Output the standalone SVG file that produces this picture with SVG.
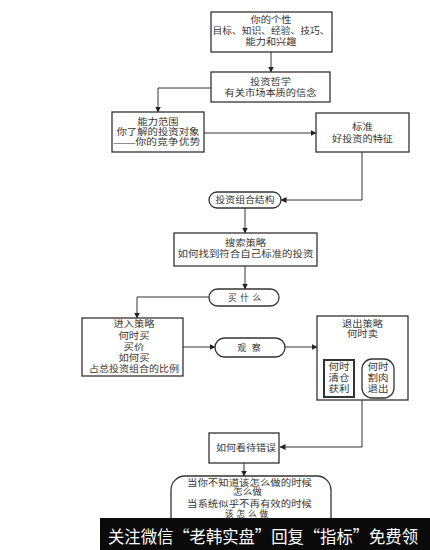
<svg xmlns="http://www.w3.org/2000/svg" width="430" height="550" viewBox="0 0 430 550">
<defs>
<marker id="ah" markerWidth="6" markerHeight="6" refX="5.5" refY="3" orient="auto" markerUnits="userSpaceOnUse">
<path d="M0,0 L6,3 L0,6 Z" fill="#222"/>
</marker>
<style>
.box{fill:#fff;stroke:#333;stroke-width:1.3}
.t{font-family:"Liberation Serif","Noto Sans CJK SC",serif;font-size:8.6px;fill:#333;text-anchor:middle;dominant-baseline:central}
.c{fill:none;stroke:#333;stroke-width:1;marker-end:url(#ah)}
.l{fill:none;stroke:#333;stroke-width:1}
.b{font-family:"Noto Sans CJK SC",sans-serif;font-size:17px;fill:#fff;dominant-baseline:central}
</style>
</defs>
<rect width="430" height="550" fill="#fff"/>

<g id="connectors">
<path class="c" d="M271,52 V72"/>
<path class="c" d="M211,88 H158 V112"/>
<path class="c" d="M204,133 H316"/>
<path class="c" d="M362,152 V200 H281"/>
<path class="c" d="M245,208 V233"/>
<path class="c" d="M245,266 V289"/>
<path class="c" d="M209,297 H137 V318"/>
<path class="c" d="M183,347 H215"/>
<path class="c" d="M285,347 H317"/>
<path class="l" d="M363,339 V349"/>
<path class="l" d="M341,349 H381"/>
<path class="c" d="M341,349 V360"/>
<path class="c" d="M381,349 V359"/>
<path class="c" d="M362,400 V447 H280"/>
<path class="c" d="M244,463 V476"/>
</g>

<g id="n1">
<rect class="box" x="211" y="12" width="121" height="40"/>
<text class="t" x="271" y="20" textLength="41" lengthAdjust="spacingAndGlyphs">你的个性</text>
<text class="t" x="271" y="30.5" textLength="117" lengthAdjust="spacingAndGlyphs">目标、知识、经验、技巧、</text>
<text class="t" x="271" y="41.5" textLength="51" lengthAdjust="spacingAndGlyphs">能力和兴趣</text>
</g>

<g id="n2">
<rect class="box" x="211" y="72" width="119" height="30"/>
<text class="t" x="270.5" y="81.5" textLength="41" lengthAdjust="spacingAndGlyphs">投资哲学</text>
<text class="t" x="270.5" y="92.5" textLength="92" lengthAdjust="spacingAndGlyphs">有关市场本质的信念</text>
</g>

<g id="n3">
<rect class="box" x="112" y="112" width="92" height="40"/>
<text class="t" x="158" y="122" textLength="41" lengthAdjust="spacingAndGlyphs">能力范围</text>
<text class="t" x="158" y="131.5" textLength="83" lengthAdjust="spacingAndGlyphs">你了解的投资对象</text>
<text class="t" x="157" y="141.5" textLength="87" lengthAdjust="spacingAndGlyphs">——你的竞争优势</text>
</g>

<g id="n4">
<rect class="box" x="316" y="113" width="93" height="39"/>
<text class="t" x="362.5" y="127" textLength="21" lengthAdjust="spacingAndGlyphs">标准</text>
<text class="t" x="362.5" y="139" textLength="61" lengthAdjust="spacingAndGlyphs">好投资的特征</text>
</g>

<g id="n5">
<rect class="box" x="209" y="192" width="72" height="16" rx="8"/>
<text class="t" x="245" y="200" textLength="59" lengthAdjust="spacingAndGlyphs">投资组合结构</text>
</g>

<g id="n6">
<rect class="box" x="174" y="233" width="143" height="33"/>
<text class="t" x="245.5" y="243" textLength="41" lengthAdjust="spacingAndGlyphs">搜索策略</text>
<text class="t" x="245.5" y="254" textLength="136" lengthAdjust="spacingAndGlyphs">如何找到符合自己标准的投资</text>
</g>

<g id="n7">
<rect class="box" x="209" y="289" width="70" height="17" rx="8.5"/>
<text class="t" x="244.5" y="297.5" textLength="33" lengthAdjust="spacing">买什么</text>
</g>

<g id="n8">
<rect class="box" x="82" y="318" width="101" height="58"/>
<text class="t" x="134" y="324" textLength="41" lengthAdjust="spacingAndGlyphs">进入策略</text>
<text class="t" x="134" y="335.5" textLength="31" lengthAdjust="spacingAndGlyphs">何时买</text>
<text class="t" x="134" y="346.5" textLength="21" lengthAdjust="spacingAndGlyphs">买价</text>
<text class="t" x="134" y="358" textLength="31" lengthAdjust="spacingAndGlyphs">如何买</text>
<text class="t" x="134" y="369" textLength="90" lengthAdjust="spacingAndGlyphs">占总投资组合的比例</text>
</g>

<g id="n9">
<rect class="box" x="215" y="338" width="70" height="19" rx="9.5"/>
<text class="t" x="249" y="347.5" textLength="23" lengthAdjust="spacing">观察</text>
</g>

<g id="n10">
<rect class="box" x="317" y="316" width="91" height="84"/>
<text class="t" x="362.5" y="324" textLength="41" lengthAdjust="spacingAndGlyphs">退出策略</text>
<text class="t" x="362.5" y="334" textLength="31" lengthAdjust="spacingAndGlyphs">何时卖</text>
</g>

<g id="n11">
<rect class="box" x="324" y="360" width="30" height="37" style="stroke-width:2"/>
<text class="t" x="339" y="367" textLength="21" lengthAdjust="spacingAndGlyphs">何时</text>
<text class="t" x="339" y="378" textLength="21" lengthAdjust="spacingAndGlyphs">清仓</text>
<text class="t" x="339" y="389" textLength="21" lengthAdjust="spacingAndGlyphs">获利</text>
</g>

<g id="n12">
<rect class="box" x="362" y="359" width="32" height="39" rx="10"/>
<text class="t" x="378" y="367" textLength="21" lengthAdjust="spacingAndGlyphs">何时</text>
<text class="t" x="378" y="378" textLength="21" lengthAdjust="spacingAndGlyphs">割肉</text>
<text class="t" x="378" y="389" textLength="21" lengthAdjust="spacingAndGlyphs">退出</text>
</g>

<g id="n13">
<rect class="box" x="209" y="433" width="70" height="30"/>
<text class="t" x="246" y="447.5" textLength="60" lengthAdjust="spacingAndGlyphs">如何看待错误</text>
</g>

<g id="n14">
<rect class="box" x="171" y="476" width="160" height="56" rx="14"/>
<text class="t" x="249.5" y="482.5" textLength="125" lengthAdjust="spacingAndGlyphs">当你不知道该怎么做的时候</text>
<text class="t" x="247.5" y="491.5" textLength="29" lengthAdjust="spacingAndGlyphs">怎么做</text>
<text class="t" x="249.5" y="504" textLength="125" lengthAdjust="spacingAndGlyphs">当系统似乎不再有效的时候</text>
<text class="t" x="246.5" y="513.5" textLength="43" lengthAdjust="spacing">该怎么做</text>
</g>

<g id="banner">
<rect x="100" y="518" width="330" height="32" fill="#0a0a0a"/>
<text class="b" x="108" y="535" textLength="310" lengthAdjust="spacingAndGlyphs">关注微信“老韩实盘”回复“指标”免费领</text>
</g>
</svg>
